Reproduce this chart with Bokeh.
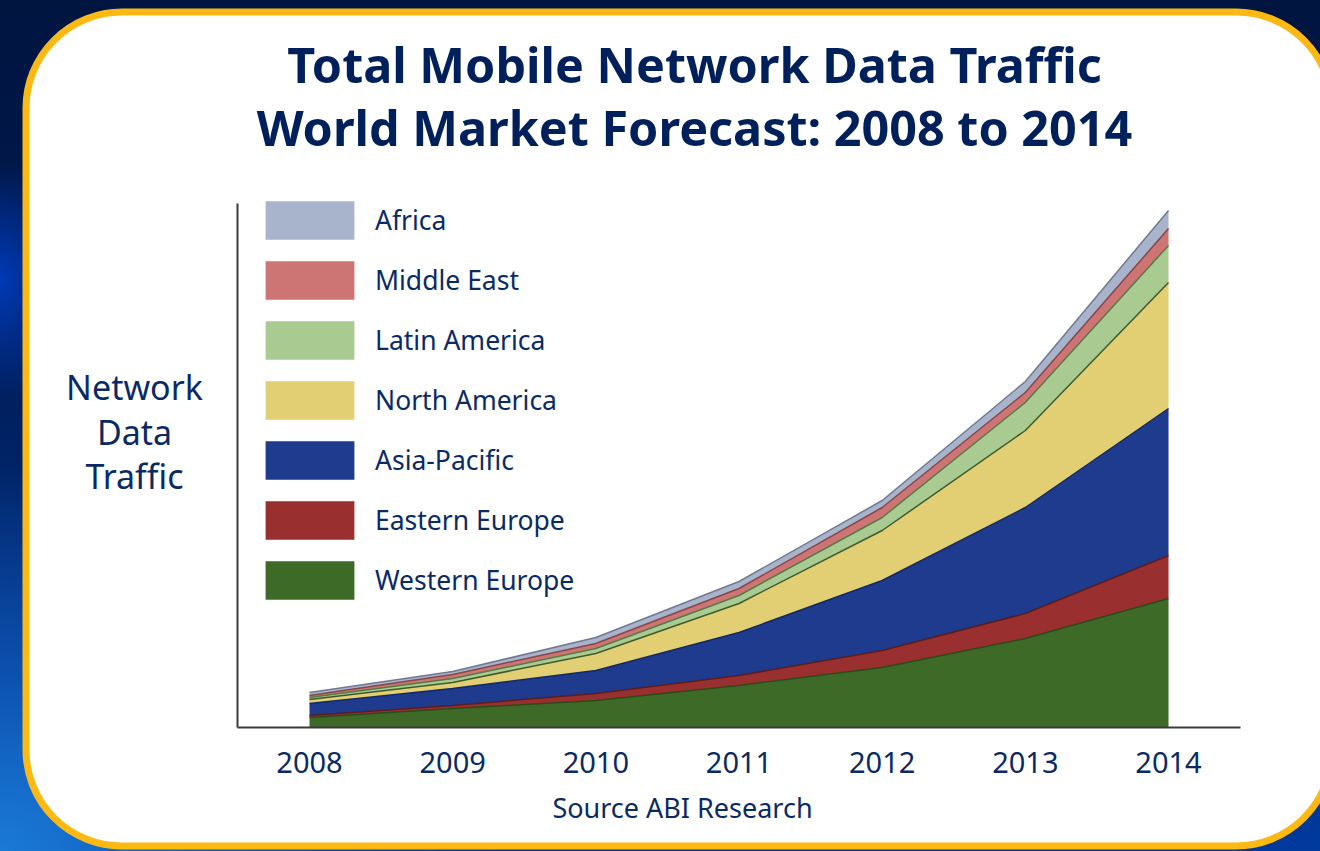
from bokeh.plotting import figure
from bokeh.models import (Range1d, LinearAxis, FixedTicker, ColumnDataSource,
                          Legend, LegendItem, BoxAnnotation, Label)
from bokeh.embed import file_html
from bokeh.resources import INLINE

# ---------------- data (relative traffic units) -------------
years = [2008, 2009, 2010, 2011, 2012, 2013, 2014]
western_europe = [10, 19, 27, 42, 60, 89, 129]
eastern_europe = [2, 3, 7, 10, 17, 25, 43]
asia_pacific = [12, 17, 23, 43, 70, 106, 147]
north_america = [4, 6, 17, 29, 50, 77, 126]
latin_america = [2, 4, 5, 8, 13, 28, 37]
middle_east = [2, 4, 5, 7, 10, 10, 17]
africa = [3, 3, 6, 7, 7, 11, 18]

region_keys = ["we", "ee", "ap", "na", "la", "me", "af"]
region_names = ["Western Europe", "Eastern Europe", "Asia-Pacific", "North America",
                "Latin America", "Middle East", "Africa"]
series = [western_europe, eastern_europe, asia_pacific, north_america,
          latin_america, middle_east, africa]

title_lines = ["Total Mobile Network Data Traffic", "World Market Forecast: 2008 to 2014"]
y_label_lines = ["Network", "Data", "Traffic"]
source_text = "Source ABI Research"

# ---------------- styles --------------------------------------------------------
fills = ["#3e6a28", "#9a2f2f", "#1e3b8e", "#e2cf74", "#a9cb91", "#cd7575", "#a8b3cc"]
edges = ["#2a4a1a", "#5c1c1c", "#13286a", "#3f5a2a", "#557a45", "#8a4545", "#6f7a90"]
NAVY = "#0a2a66"
TITLE_NAVY = "#00205b"
FONT = "Noto Sans"

FIG_W, FIG_H = 1320, 851
X0_PX = 309.0        # pixel position of first year
X_STEP = 143.17      # pixels per year
BASE_PX = 727.0      # pixel row (from top) of the zero line
Y_SCALE = 1.0        # pixels per traffic unit

x_range = Range1d(years[0] - X0_PX / X_STEP, years[0] + (FIG_W - X0_PX) / X_STEP)
y_range = Range1d(-(FIG_H - BASE_PX) / Y_SCALE, BASE_PX / Y_SCALE)

p = figure(width=FIG_W, height=FIG_H, output_backend="svg", toolbar_location=None,
           x_range=x_range, y_range=y_range, x_axis_type=None, y_axis_type=None,
           min_border=0, min_border_left=0, min_border_right=0,
           min_border_top=0, min_border_bottom=0)
p.background_fill_color = None
p.border_fill_color = None
p.outline_line_color = None
p.styles = {
    "background": (
        "radial-gradient(ellipse 38% 45% at 0% 100%, #1a7ad6 0%, rgba(20,100,200,0.65) 45%, rgba(0,40,120,0) 100%),"
        "radial-gradient(ellipse 6% 14% at 0% 33%, rgba(0,60,190,0.95) 0%, rgba(0,30,110,0) 100%),"
        "linear-gradient(180deg, #001440 0%, #00194c 30%, #002a78 70%, #003a9c 100%)"
    )
}

p.extra_x_ranges = {"px": Range1d(0, FIG_W)}
p.extra_y_ranges = {"px": Range1d(FIG_H, 0)}

# white rounded panel with orange border
panel = BoxAnnotation(left=25.5, right=1331.5, top=11.5, bottom=845.5,
                      x_range_name="px", y_range_name="px",
                      fill_color="white", fill_alpha=1.0,
                      line_color="#fdb913", line_width=7, line_alpha=1.0,
                      border_radius=96, level="underlay")
p.add_layout(panel)

# ---------------- stacked areas ----------------------------------------------------
data = {"year": years}
for k, s in zip(region_keys, series):
    data[k] = s
src = ColumnDataSource(data)

areas = p.varea_stack(stackers=region_keys, x="year", source=src, color=fills)
p.vline_stack(stackers=region_keys, x="year", source=src, color=edges, line_width=1.5)

# empty renderer used only to give the legend swatches a grey outline
swatch_edge = p.quad(left=[], right=[], top=[], bottom=[], fill_color=None,
                     line_color="#8c8c8c", line_width=1.5)

# ---------------- axes -------------------------------------------------------------
xaxis = LinearAxis(fixed_location=0, bounds=(years[0] - 0.5, years[-1] + 0.5),
                   ticker=FixedTicker(ticks=years))
xaxis.axis_line_color = "#3a3a3a"
xaxis.axis_line_width = 2
xaxis.major_tick_line_color = None
xaxis.minor_tick_line_color = None
xaxis.major_label_standoff = 18
xaxis.major_label_text_font = FONT
xaxis.major_label_text_font_size = "29px"
xaxis.major_label_text_color = NAVY
p.add_layout(xaxis, "below")

yaxis = LinearAxis(fixed_location=years[0] - 0.5, bounds=(0, 524),
                   ticker=FixedTicker(ticks=[]))
yaxis.axis_line_color = "#3a3a3a"
yaxis.axis_line_width = 2
yaxis.major_tick_line_color = None
yaxis.minor_tick_line_color = None
yaxis.major_label_text_color = None
p.add_layout(yaxis, "left")

# ---------------- legend -----------------------------------------------------------
items = [LegendItem(label=n, renderers=[r, swatch_edge])
         for n, r in zip(region_names, areas)][::-1]
legend = Legend(items=items, location=(254, 247), glyph_width=111, glyph_height=48,
                spacing=12, label_standoff=10, padding=0, margin=0,
                border_line_color=None, background_fill_alpha=0,
                label_text_font=FONT, label_text_font_size="26.5px",
                label_text_color=NAVY)
p.add_layout(legend)

# ---------------- titles, y label, source ------------------------------------------
for txt, yy in zip(title_lines, [63, 126]):
    p.add_layout(Label(x=694, y=yy, x_range_name="px", y_range_name="px", text=txt,
                       text_align="center", text_baseline="middle",
                       text_font=FONT, text_font_size="48.5px", text_font_style="bold",
                       text_color=TITLE_NAVY))

for txt, yy in zip(y_label_lines, [386, 431, 475]):
    p.add_layout(Label(x=134, y=yy, x_range_name="px", y_range_name="px", text=txt,
                       text_align="center", text_baseline="middle",
                       text_font=FONT, text_font_size="34px", text_color=NAVY))

p.add_layout(Label(x=682, y=807, x_range_name="px", y_range_name="px", text=source_text,
                   text_align="center", text_baseline="middle",
                   text_font=FONT, text_font_size="27px", text_color=NAVY))

open("out.html", "w").write(file_html(p, INLINE, title="Total Mobile Network Data Traffic"))
